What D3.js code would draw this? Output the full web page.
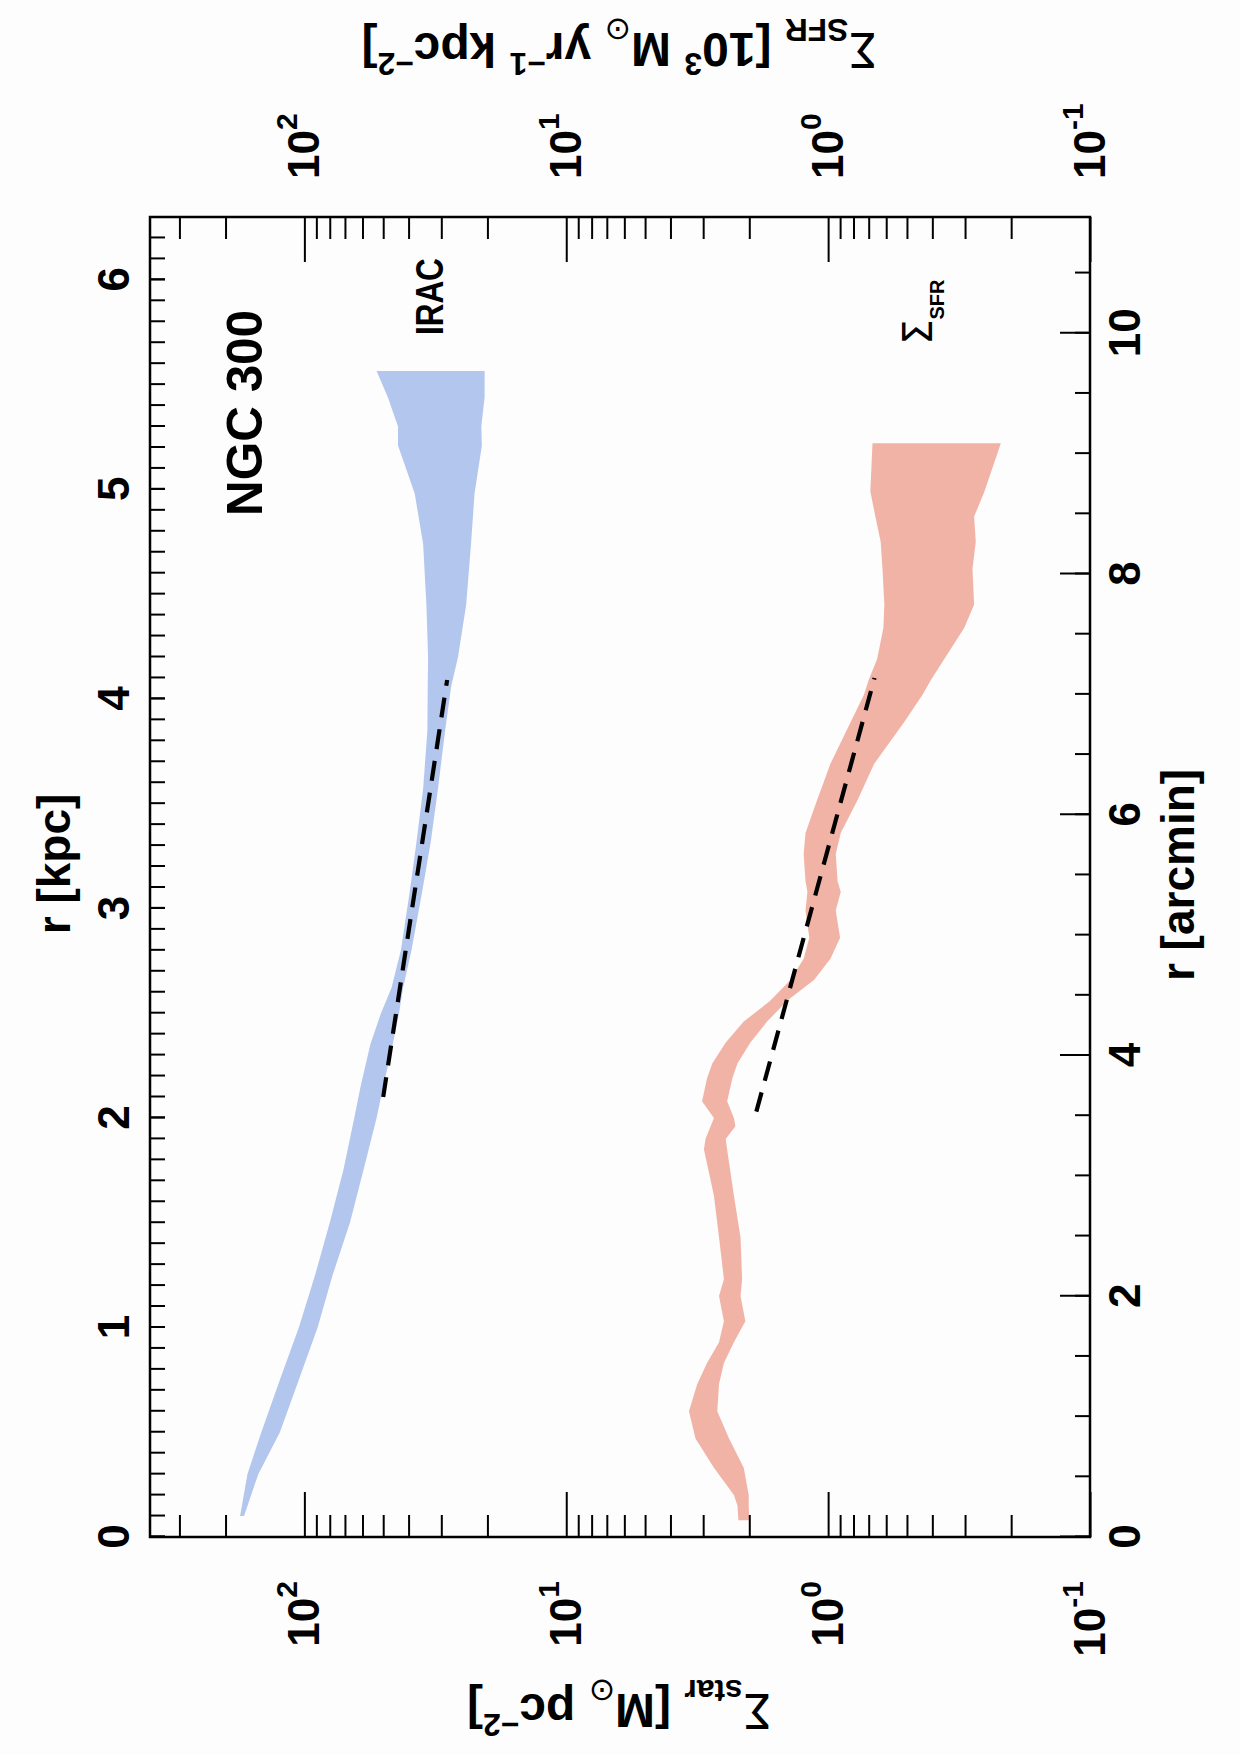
<!DOCTYPE html>
<html><head><meta charset="utf-8">
<script src="https://cdn.jsdelivr.net/npm/d3@7"></script>
<style>
body{margin:0;background:#fdfdfd;}
svg{display:block;}
text{font-family:"Liberation Sans",Arial,Helvetica,sans-serif;}
</style>
</head><body>
<svg id="chart" width="1240" height="1755"></svg>
<script>
// ---------- data ----------
const iracR  = [0.10,0.30,0.50,0.75,1.00,1.25,1.50,1.75,2.00,2.15,2.35,2.50,2.62,2.80,3.08,3.32,3.57,3.85,4.06,4.20,4.45,4.74,4.98,5.21,5.30,5.44,5.565];
const iracHi = [176,165,146,124,105,91,80,71,64.5,61,56,51,46.5,42.8,39.6,37.3,35.2,33.9,33.8,33.7,34.2,35.2,37.9,43.9,43.9,48,53];
const iracLo = [170,150,124,105,89,78,67,59.5,53,50,46,43.5,42,39,35.5,32.9,30.9,29,27.5,25.9,24.1,23.1,22.4,21.0,21.1,20.5,20.5];

const sfrR  = [0.08,0.15,0.20,0.33,0.47,0.60,0.73,0.83,0.93,1.03,1.15,1.23,1.43,1.63,1.85,1.90,1.96,2.00,2.08,2.19,2.26,2.36,2.46,2.56,2.66,2.76,2.86,2.99,3.08,3.13,3.26,3.36,3.52,3.69,3.89,4.02,4.09,4.19,4.34,4.45,4.62,4.75,4.87,4.99,5.22];
const sfrHi = [2.20,2.22,2.29,2.73,3.21,3.40,3.16,2.90,2.61,2.50,2.61,2.50,2.61,2.73,2.98,2.94,2.81,2.73,3.03,2.90,2.77,2.46,2.10,1.66,1.39,1.24,1.18,1.22,1.20,1.22,1.24,1.22,1.10,0.98,0.82,0.73,0.70,0.65,0.615,0.61,0.62,0.63,0.66,0.69,0.677];
const sfrLo = [2.00,2.01,2.01,2.10,2.39,2.65,2.61,2.50,2.29,2.07,2.16,2.13,2.16,2.29,2.43,2.46,2.26,2.29,2.43,2.32,2.22,1.98,1.71,1.43,1.13,0.98,0.90,0.935,0.895,0.92,0.935,0.895,0.77,0.667,0.512,0.436,0.405,0.36,0.302,0.277,0.281,0.273,0.277,0.253,0.219];

const iracFitR = [2.10, 4.09];
const iracFitS = [50, 28.5];
const sfrFitR  = [2.03, 4.10];
const sfrFitS  = [1.88, 0.665];

const kpcLabels    = [0,1,2,3,4,5,6];
const arcminLabels = [0,2,4,6,8,10];
const decadeTicks  = [0.1,1,10,100];
const decadeExp    = ["-1","0","1","2"];

// ---------- layout ----------
const X0 = 150, Y0 = 1537;
const W = 1320, H = 940;
const kpcMax = 6.30, arcPerKpc = 1.7406;
const sMax = Math.pow(10, 2.5895), sMin = 0.1;

const svg = d3.select("#chart");
svg.append("rect").attr("width",1240).attr("height",1755).attr("fill","#fdfdfd");
const g = svg.append("g").attr("transform",`translate(${X0},${Y0}) rotate(-90)`);

const x  = d3.scaleLinear().domain([0,kpcMax]).range([0,W]);
const xa = d3.scaleLinear().domain([0,kpcMax*arcPerKpc]).range([0,W]);
const y  = d3.scaleLog().domain([sMax,sMin]).range([0,H]);

// ---------- bands ----------
const area = d3.area().x(d=>x(d.r)).y0(d=>y(d.lo)).y1(d=>y(d.hi));
const irac = iracR.map((r,i)=>({r, hi:iracHi[i], lo:iracLo[i]}));
const sfr  = sfrR.map((r,i)=>({r, hi:sfrHi[i], lo:sfrLo[i]}));
g.append("path").datum(irac).attr("d",area).attr("fill","#b3c6ee");
g.append("path").datum(sfr).attr("d",area).attr("fill","#f2b3a7");

// ---------- fits ----------
const line = d3.line().x(d=>x(d[0])).y(d=>y(d[1]));
[[iracFitR,iracFitS],[sfrFitR,sfrFitS]].forEach(([rr,ss])=>{
  g.append("path").datum(rr.map((r,i)=>[r,ss[i]])).attr("d",line)
   .attr("fill","none").attr("stroke","#000").attr("stroke-width",4.2)
   .attr("stroke-dasharray","20,12");
});

// ---------- axes ----------
function styleAxis(sel){
  sel.select(".domain").remove();
  sel.selectAll(".tick line").attr("stroke","#000").attr("stroke-width",2);
  sel.selectAll("text").attr("font-size",44).attr("font-weight","bold").attr("fill","#000")
     .attr("font-family","'Liberation Sans',Arial,sans-serif");
}
// top (kpc)
const kpcMinor = d3.range(0,63).map(i=>i/10);
g.append("g").call(d3.axisTop(x).tickValues(kpcMinor).tickSizeInner(-15).tickSizeOuter(0).tickFormat(""))
  .call(styleAxis);
g.append("g").call(d3.axisTop(x).tickValues(kpcLabels).tickSizeInner(-15).tickSizeOuter(0).tickPadding(21).tickFormat(d3.format("d")))
  .call(styleAxis);
// bottom (arcmin)
const arcMinor = d3.range(0,22).map(i=>i/2);
g.append("g").attr("transform",`translate(0,${H})`)
  .call(d3.axisBottom(xa).tickValues(arcMinor).tickSizeInner(-15).tickSizeOuter(0).tickFormat(""))
  .call(styleAxis);
g.append("g").attr("transform",`translate(0,${H})`)
  .call(d3.axisBottom(xa).tickValues(arcminLabels).tickSizeInner(-30).tickSizeOuter(0).tickPadding(19).tickFormat(d3.format("d")))
  .call(styleAxis);
// log minor ticks
const logMinor = [];
decadeTicks.forEach(d=>{ for(let k=2;k<10;k++){ const v=k*d; if(v<sMax) logMinor.push(v);} });
g.append("g").call(d3.axisLeft(y).tickValues(logMinor).tickSizeInner(-22).tickSizeOuter(0).tickFormat("")).call(styleAxis);
g.append("g").attr("transform",`translate(${W},0)`)
  .call(d3.axisRight(y).tickValues(logMinor).tickSizeInner(-22).tickSizeOuter(0).tickFormat("")).call(styleAxis);
function powLabels(sel){
  sel.selectAll(".tick text").each(function(d){
    const t = d3.select(this); t.text("");
    const e = decadeExp[decadeTicks.indexOf(d)];
    t.append("tspan").text("10");
    t.append("tspan").text(e).attr("font-size",30).attr("dy",-22);
  });
}
g.append("g").call(d3.axisLeft(y).tickValues(decadeTicks).tickSizeInner(-45).tickSizeOuter(0).tickPadding(44).tickFormat(d=>d))
  .call(styleAxis).call(powLabels);
g.append("g").attr("transform",`translate(${W},0)`)
  .call(d3.axisRight(y).tickValues(decadeTicks).tickSizeInner(-45).tickSizeOuter(0).tickPadding(38).tickFormat(d=>d))
  .call(styleAxis).call(powLabels);

// frame
g.append("rect").attr("x",0).attr("y",0).attr("width",W).attr("height",H)
  .attr("fill","none").attr("stroke","#000").attr("stroke-width",2.5);

// ---------- titles ----------
function rich(textSel, parts, size, subR){
  let off = 0; subR = subR || 0.66;
  parts.forEach(p=>{
    const ts = textSel.append("tspan").text(p.t);
    let target = 0, fs = size;
    if(p.s==="sub"){ target = size*0.30; fs = size*subR; }
    if(p.s==="sup"){ target = -size*0.42; fs = size*subR; }
    ts.attr("dy", target-off).attr("font-size", fs);
    if(p.w) ts.attr("font-weight",p.w);
    if(p.f) ts.attr("font-family",p.f);
    off = target;
  });
}
function titleText(xp,yp,rot){
  return g.append("text").attr("transform",`translate(${xp},${yp}) rotate(${rot})`)
    .attr("text-anchor","middle").attr("font-weight","bold").attr("fill","#000");
}
const TS = 48;
rich(titleText(673,-80,0), [{t:"r [kpc]"}], 46);
rich(titleText(662,H+104,0), [{t:"r [arcmin]"}], 46);
rich(titleText(-157,H/2,-90), [{t:"Σ",w:"normal",f:"DejaVu Sans"},{t:"star",s:"sub"},{t:" [M"},{t:"⊙",s:"sub",w:"normal",f:"DejaVu Sans"},{t:" pc"},{t:"−2",s:"sup"},{t:"]"}], TS);
rich(titleText(W+184,H/2,-90), [{t:"Σ",w:"normal",f:"DejaVu Sans"},{t:"SFR",s:"sub"},{t:" [10"},{t:"3",s:"sup"},{t:" M"},{t:"⊙",s:"sub",w:"normal",f:"DejaVu Sans"},{t:" yr"},{t:"−1",s:"sup"},{t:" kpc"},{t:"−2",s:"sup"},{t:"]"}], TS);

// annotations
g.append("text").attr("x",x(5.365)).attr("y",94+18).attr("text-anchor","middle")
  .attr("font-size",50).attr("font-weight","bold").attr("textLength",206).attr("lengthAdjust","spacingAndGlyphs").text("NGC 300");
g.append("text").attr("x",x(5.92)).attr("y",293).attr("text-anchor","middle")
  .attr("font-size",38).attr("font-weight","bold").attr("textLength",77).attr("lengthAdjust","spacingAndGlyphs").text("IRAC");
const sl = g.append("text").attr("x",x(5.69)).attr("y",782).attr("text-anchor","start");
rich(sl, [{t:"Σ",w:"normal",f:"DejaVu Sans"},{t:"SFR",s:"sub",w:"bold"}], 40, 0.5);
</script>
</body></html>
